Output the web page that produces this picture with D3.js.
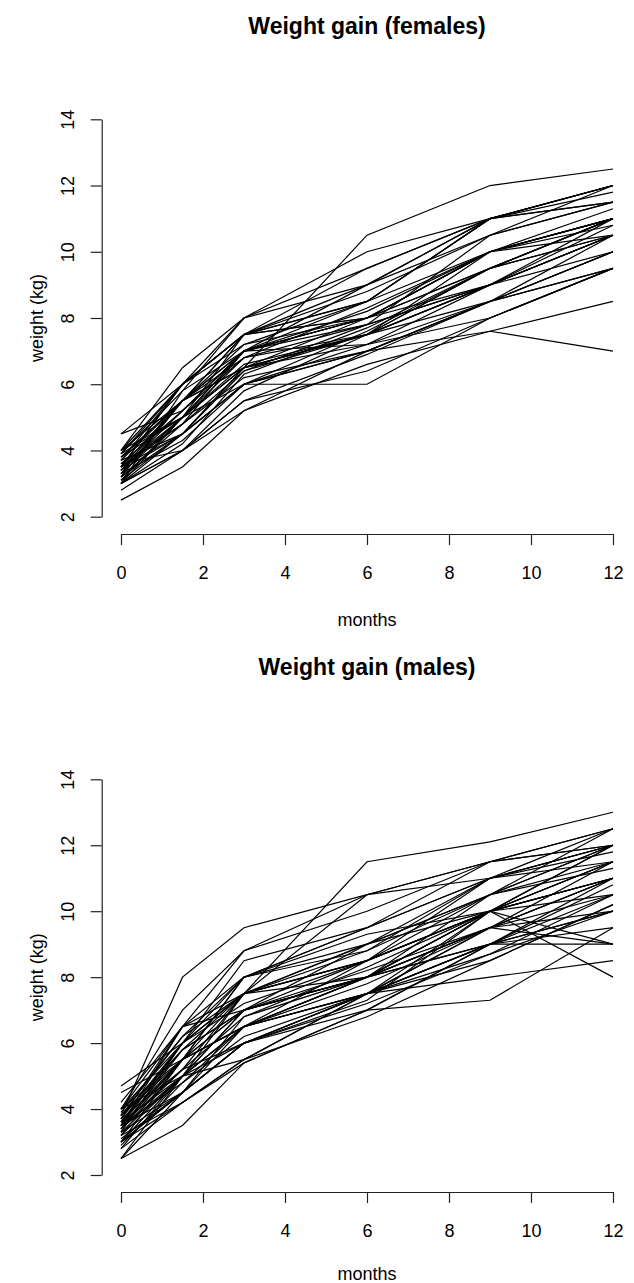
<!DOCTYPE html>
<html>
  <head>
    <meta charset="utf-8" />
    <script src="https://cdn.jsdelivr.net/npm/d3@7"></script>
    <style>
      * {
        margin: 0;
        padding: 0;
      }
      body {
        background-color: white;
        font-family: "Liberation Sans", Arial, Helvetica, sans-serif;
      }
      .line {
        fill: none;
        stroke: black;
        stroke-width: 1.2px;
      }
      .axis path,
      .axis line {
        stroke: #222;
        stroke-width: 1.2px;
      }
      .axis text {
        font-family: "Liberation Sans", Arial, Helvetica, sans-serif;
        font-size: 18px;
        fill: black;
      }
      .title {
        font-size: 23px;
        font-weight: bold;
      }
      .label {
        font-size: 18px;
      }
    </style>
  </head>
  <body>
    <svg id="chart" width="634" height="1283"></svg>

    <script>
      // measurement times (months)
      const months = [0, 1.5, 3, 6, 9, 12];

      const xTicks = [0, 2, 4, 6, 8, 10, 12];
      const yTicks = [2, 4, 6, 8, 10, 12, 14];

      // one row per child, weights (kg) at the times above
      const femaleWeights = [
        [4.5, 5.2, 6.8, 7.8, 9.0, 10.5],
        [4.5, 6.0, 7.5, 8.5, 10.0, 11.0],
        [4.0, 6.5, 8.0, 9.5, 11.0, 12.0],
        [4.0, 6.0, 8.0, 10.0, 11.0, 12.0],
        [4.0, 5.5, 7.5, 8.0, 9.5, 11.0],
        [4.0, 5.0, 7.0, 8.0, 10.0, 10.5],
        [3.9, 6.0, 7.5, 9.0, 11.0, 11.5],
        [3.9, 5.8, 8.0, 9.0, 10.5, 12.0],
        [3.8, 5.5, 7.2, 8.5, 11.0, 12.0],
        [3.8, 5.0, 6.5, 7.5, 9.5, 11.0],
        [3.7, 5.5, 6.5, 10.5, 12.0, 12.5],
        [3.7, 6.0, 7.5, 8.8, 10.5, 11.5],
        [3.6, 4.8, 7.0, 7.8, 9.0, 10.5],
        [3.6, 5.2, 7.0, 8.0, 10.0, 11.3],
        [3.5, 5.5, 7.5, 8.5, 11.0, 11.8],
        [3.5, 4.5, 6.0, 7.0, 8.5, 10.0],
        [3.5, 5.0, 6.6, 7.5, 9.0, 10.8],
        [3.5, 6.0, 7.2, 8.0, 10.0, 11.0],
        [3.5, 4.8, 6.4, 7.5, 8.5, 9.5],
        [3.4, 5.0, 6.5, 7.2, 8.0, 9.5],
        [3.4, 4.5, 6.0, 7.6, 9.5, 10.5],
        [3.4, 5.2, 7.0, 8.2, 10.0, 11.0],
        [3.3, 5.5, 6.5, 7.5, 9.0, 10.5],
        [3.3, 4.3, 6.0, 6.0, 8.0, 9.5],
        [3.3, 5.0, 7.5, 8.0, 9.5, 11.0],
        [3.2, 4.5, 6.4, 7.8, 10.5, 11.5],
        [3.2, 5.5, 7.0, 8.5, 11.0, 12.0],
        [3.2, 4.8, 6.2, 7.0, 8.5, 10.0],
        [3.1, 4.5, 6.5, 7.5, 9.5, 10.5],
        [3.1, 5.0, 6.8, 8.3, 10.0, 10.8],
        [3.0, 4.0, 5.5, 6.4, 8.0, 9.5],
        [3.0, 4.5, 6.0, 7.0, 7.6, 7.0],
        [3.0, 4.0, 5.2, 6.6, 7.6, 8.5],
        [3.0, 5.0, 6.0, 7.2, 9.0, 10.0],
        [3.0, 4.2, 6.3, 7.7, 9.5, 11.0],
        [3.0, 5.8, 7.0, 8.0, 10.0, 11.0],
        [2.8, 4.0, 5.5, 6.9, 8.5, 10.5],
        [2.5, 3.5, 5.2, 7.0, 8.5, 9.5],
        [3.6, 4.0, 5.8, 7.5, 9.0, 11.0],
        [3.8, 5.5, 7.0, 9.0, 11.0, 12.0],
        [3.7, 4.5, 6.5, 8.0, 9.0, 10.5],
        [3.4, 5.5, 6.8, 7.5, 10.0, 11.0],
        [3.9, 5.0, 7.0, 7.2, 8.5, 10.0],
        [3.5, 6.0, 7.5, 9.5, 11.0, 11.5],
      ];

      const maleWeights = [
        [4.7, 6.0, 7.5, 9.0, 10.5, 12.0],
        [4.5, 5.5, 8.0, 9.5, 11.0, 12.5],
        [4.2, 6.5, 8.8, 10.0, 11.5, 12.0],
        [4.0, 7.0, 8.8, 10.5, 11.5, 12.5],
        [4.0, 6.0, 7.5, 8.5, 10.0, 11.5],
        [4.0, 6.5, 8.0, 9.0, 10.0, 11.0],
        [4.0, 5.5, 7.0, 8.0, 10.0, 11.5],
        [4.0, 5.0, 6.5, 8.5, 11.0, 12.0],
        [3.8, 8.0, 9.5, 10.5, 11.0, 12.0],
        [3.8, 6.2, 7.5, 8.5, 10.0, 9.0],
        [3.8, 5.8, 7.0, 8.2, 9.5, 11.0],
        [3.8, 5.5, 7.5, 11.5, 12.1, 13.0],
        [3.7, 6.0, 8.5, 9.5, 11.5, 12.5],
        [3.7, 5.2, 6.8, 8.0, 9.5, 10.5],
        [3.7, 6.5, 7.5, 8.8, 10.5, 11.5],
        [3.6, 5.5, 6.5, 7.5, 9.0, 10.0],
        [3.6, 6.0, 8.0, 9.3, 10.0, 8.0],
        [3.6, 5.0, 7.0, 8.0, 9.0, 10.5],
        [3.5, 6.0, 7.5, 8.0, 10.0, 11.0],
        [3.5, 5.5, 8.0, 8.8, 11.0, 12.0],
        [3.5, 4.8, 6.5, 7.5, 9.5, 11.0],
        [3.5, 6.5, 7.0, 9.0, 10.5, 11.3],
        [3.5, 5.2, 7.5, 8.5, 10.0, 12.0],
        [3.5, 4.5, 6.0, 7.0, 9.0, 9.5],
        [3.4, 5.8, 7.0, 8.0, 9.5, 10.0],
        [3.4, 5.0, 7.5, 9.0, 11.0, 11.5],
        [3.4, 5.5, 6.5, 7.5, 9.0, 10.8],
        [3.3, 4.5, 6.0, 7.2, 8.7, 10.5],
        [3.3, 5.0, 5.5, 7.5, 9.5, 9.0],
        [3.3, 6.0, 7.2, 8.5, 10.0, 11.0],
        [3.2, 5.5, 7.0, 8.0, 9.0, 9.0],
        [3.2, 4.2, 5.5, 6.8, 8.5, 10.2],
        [3.2, 5.0, 6.5, 8.0, 10.0, 11.5],
        [3.0, 4.5, 6.0, 7.5, 8.7, 10.0],
        [3.0, 5.5, 6.5, 7.8, 9.5, 11.0],
        [3.0, 4.2, 5.4, 7.0, 9.0, 11.0],
        [3.0, 5.0, 6.0, 7.3, 10.0, 12.0],
        [3.0, 4.5, 6.8, 8.3, 10.0, 10.5],
        [2.9, 4.8, 6.2, 7.5, 9.0, 10.0],
        [2.8, 4.2, 5.5, 7.5, 8.0, 8.5],
        [2.8, 5.0, 6.5, 8.0, 9.5, 11.5],
        [2.5, 3.5, 5.4, 7.0, 7.3, 9.5],
        [2.5, 4.5, 6.0, 7.5, 10.0, 11.0],
        [2.5, 5.0, 7.0, 8.5, 10.5, 12.5],
        [3.6, 5.8, 7.5, 10.5, 11.5, 12.0],
        [3.9, 6.2, 8.0, 9.5, 11.0, 11.8],
        [3.4, 5.2, 6.0, 7.5, 8.5, 10.2],
        [3.1, 4.5, 6.5, 8.0, 10.5, 12.0],
      ];

      const svg = d3.select("#chart");

      const xLeft = 121;
      const xRight = 613;

      // each panel: where the plot sits on the page
      const panels = [
        {
          title: "Weight gain (females)",
          data: femaleWeights,
          titleY: 34,
          yTop: 119.3,
          yBottom: 516.7,
          xAxisY: 534,
          xAxisAt: 101.7,
          monthsY: 626,
        },
        {
          title: "Weight gain (males)",
          data: maleWeights,
          titleY: 675,
          yTop: 779.3,
          yBottom: 1175,
          xAxisY: 1192,
          xAxisAt: 101.7,
          monthsY: 1280,
        },
      ];

      const xScale = d3.scaleLinear().domain([0, 12]).range([xLeft, xRight]);

      panels.forEach((p) => {
        const yScale = d3
          .scaleLinear()
          .domain([2, 14])
          .range([p.yBottom, p.yTop]);

        const line = d3
          .line()
          .x((d, i) => xScale(months[i]))
          .y((d) => yScale(d));

        const g = svg.append("g");

        g.selectAll(".line")
          .data(p.data)
          .enter()
          .append("path")
          .attr("class", "line")
          .attr("d", line);

        const xAxis = d3
          .axisBottom(xScale)
          .tickValues(xTicks)
          .tickSize(11)
          .tickSizeOuter(0)
          .tickPadding(21);

        g.append("g")
          .attr("class", "axis")
          .attr("transform", "translate(0," + p.xAxisY + ")")
          .call(xAxis);

        const yAxis = d3
          .axisLeft(yScale)
          .tickValues(yTicks)
          .tickSize(11)
          .tickSizeOuter(0);

        g.append("g")
          .attr("class", "axis")
          .attr("transform", "translate(" + p.xAxisAt + ",0)")
          .call(yAxis)
          .selectAll("text")
          .attr("x", 0)
          .attr("dy", 0)
          .attr("text-anchor", "middle")
          .attr("transform", "translate(-27.7,0) rotate(-90)");

        g.selectAll(".axis .domain").attr("fill", "none");

        g.append("text")
          .attr("class", "title")
          .attr("x", (xLeft + xRight) / 2)
          .attr("y", p.titleY)
          .attr("text-anchor", "middle")
          .text(p.title);

        g.append("text")
          .attr("class", "label")
          .attr("x", (xLeft + xRight) / 2)
          .attr("y", p.monthsY)
          .attr("text-anchor", "middle")
          .text("months");

        g.append("text")
          .attr("class", "label")
          .attr("text-anchor", "middle")
          .attr(
            "transform",
            "translate(43," + yScale(8) + ") rotate(-90)"
          )
          .text("weight (kg)");
      });
    </script>
  </body>
</html>
